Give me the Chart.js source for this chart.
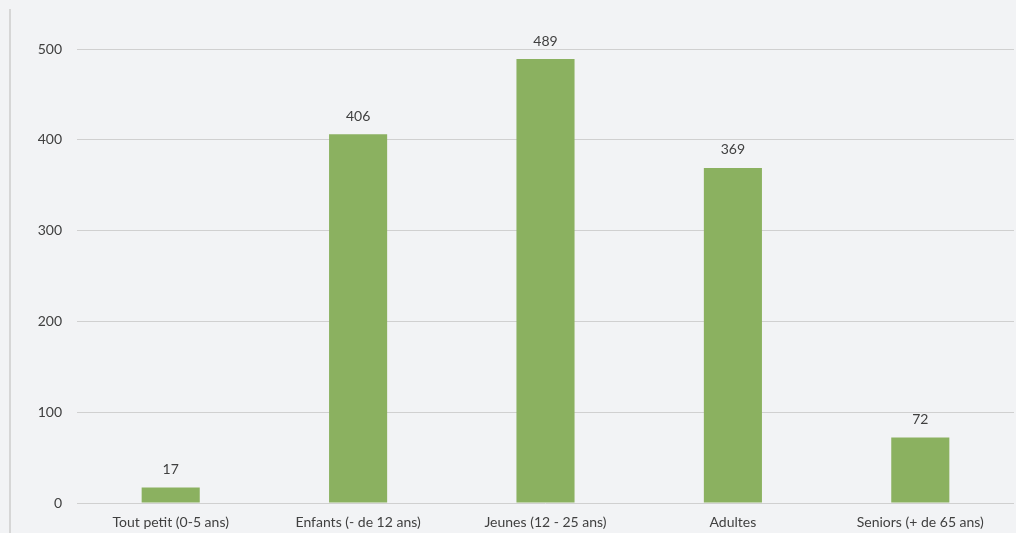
<!DOCTYPE html>
<html>
<head>
<meta charset="utf-8">
<script src="https://cdn.jsdelivr.net/npm/chart.js@4/dist/chart.umd.min.js"></script>
<style>
  html, body { margin: 0; padding: 0; background: #f2f3f5; }
  #wrap { position: relative; width: 1016px; height: 533px; }
  #edge { position: absolute; left: 9px; top: 9px; width: 2px; height: 524px; background: #d6d6d6; }
  canvas { position: absolute; left: 0; top: 0; }
</style>
</head>
<body>
<div id="wrap">
  <div id="edge"></div>
  <canvas id="myChart" width="1016" height="533"></canvas>
</div>
<script>
const categories = ["Tout petit (0-5 ans)", "Enfants (- de 12 ans)", "Jeunes (12 - 25 ans)", "Adultes", "Seniors (+ de 65 ans)"];
const counts = [17, 406, 489, 369, 72];
const yTicks = [0, 100, 200, 300, 400, 500];

const textColor = '#404040';
const fontFamily = 'Lato, "Open Sans", sans-serif';

// writes the value over each bar
const valueLabels = {
    id: 'valueLabels',
    afterDatasetsDraw(chart) {
        let ctx = chart.ctx;
        let meta = chart.getDatasetMeta(0);
        ctx.save();
        ctx.fillStyle = textColor;
        ctx.font = '14px ' + fontFamily;
        ctx.textAlign = 'center';
        ctx.textBaseline = 'bottom';
        meta.data.forEach((bar, i) => {
            ctx.fillText(String(counts[i]), bar.x, bar.y - 11);
        });
        ctx.restore();
    }
};

function drawChart() {
    let ctx = document.getElementById("myChart").getContext("2d");
    new Chart(ctx, {
        type: 'bar',
        data: {
            labels: categories,
            datasets: [{
                data: counts,
                backgroundColor: '#8bb160',
                categoryPercentage: 1,
                barPercentage: 0.31
            }]
        },
        options: {
            responsive: false,
            animation: false,
            layout: { padding: { top: 49, right: 2, left: 0, bottom: 0 } },
            plugins: { legend: { display: false }, tooltip: { enabled: false } },
            scales: {
                x: {
                    grid: { display: false },
                    border: { display: false },
                    ticks: { color: textColor, font: { family: fontFamily, size: 14 }, padding: 3, maxRotation: 0 },
                    afterFit(scale) { scale.height = 30; }
                },
                y: {
                    min: 0,
                    max: 500,
                    afterBuildTicks(scale) { scale.ticks = yTicks.map(v => ({ value: v })); },
                    grid: { color: '#d0d0d0', lineWidth: 1, drawTicks: false },
                    border: { display: false },
                    ticks: { color: textColor, font: { family: fontFamily, size: 14 }, padding: 15 },
                    afterFit(scale) { scale.width = 77; }
                }
            }
        },
        plugins: [valueLabels]
    });
}

drawChart();
</script>
</body>
</html>
